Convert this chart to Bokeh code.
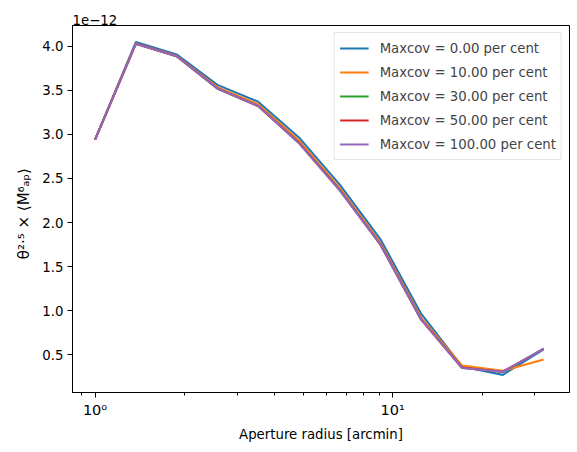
from bokeh.plotting import figure
from bokeh.embed import file_html
from bokeh.resources import INLINE
from bokeh.models import Range1d, FixedTicker, PrintfTickFormatter, Legend, LegendItem

# Aperture radii [arcmin]
radius = [1.0, 1.371, 1.880, 2.577, 3.533, 4.844, 6.641, 9.105, 12.48, 17.11, 23.46, 32.17]

# theta^2.5 * <M_ap^6>, in units of 1e-12
maxcov_0 = [2.94, 4.045, 3.905, 3.56, 3.37, 2.965, 2.43, 1.81, 0.965, 0.37, 0.275, 0.565]
maxcov_10 = [2.94, 4.03, 3.89, 3.535, 3.34, 2.93, 2.39, 1.77, 0.92, 0.38, 0.32, 0.45]
maxcov_30 = [2.94, 4.025, 3.885, 3.52, 3.32, 2.905, 2.37, 1.75, 0.90, 0.355, 0.31, 0.57]
maxcov_50 = [2.94, 4.025, 3.885, 3.52, 3.32, 2.905, 2.37, 1.75, 0.90, 0.355, 0.31, 0.57]
maxcov_100 = [2.94, 4.025, 3.885, 3.52, 3.32, 2.90, 2.365, 1.75, 0.90, 0.353, 0.31, 0.571]

labels = ["Maxcov = 0.00 per cent", "Maxcov = 10.00 per cent", "Maxcov = 30.00 per cent",
          "Maxcov = 50.00 per cent", "Maxcov = 100.00 per cent"]
series = [maxcov_0, maxcov_10, maxcov_30, maxcov_50, maxcov_100]
colors = ["#1f77b4", "#ff7f0e", "#2ca02c", "#d62728", "#9467bd"]

x_major = [1, 10]
x_minor = [0.9, 2, 3, 4, 5, 6, 7, 8, 9, 20, 30]
y_ticks = [0.5, 1.0, 1.5, 2.0, 2.5, 3.0, 3.5, 4.0]

FONT = "DejaVu Sans"
FS = "13.3px"

p = figure(width=570, height=444, x_axis_type="log", output_backend="svg",
           toolbar_location=None,
           x_range=Range1d(0.84, 39.3), y_range=Range1d(0.075, 4.233),
           min_border_left=72, min_border_right=1, min_border_top=25, min_border_bottom=50)

p.background_fill_color = "white"
p.border_fill_color = "white"
p.outline_line_color = "black"
p.outline_line_width = 1
p.xgrid.visible = False
p.ygrid.visible = False

p.title.text = "1e\u221212"
p.title.align = "left"
p.title.text_font = FONT
p.title.text_font_size = FS
p.title.text_font_style = "normal"
p.title.text_color = "black"
p.title.standoff = 2

items = []
for lab, ys, c in zip(labels, series, colors):
    r = p.line(radius, ys, line_color=c, line_width=2.1)
    items.append(LegendItem(label=lab, renderers=[r]))

legend = Legend(items=items, location="top_right")
legend.label_text_font = FONT
legend.label_text_font_size = FS
legend.label_height = 20
legend.glyph_height = 20
legend.glyph_width = 29
legend.label_standoff = 11
legend.spacing = 4
legend.padding = 5
legend.margin = 7
legend.border_line_color = "#cccccc"
legend.border_line_width = 1
legend.background_fill_alpha = 0.8
p.add_layout(legend)

xa = p.xaxis[0]
xa.ticker = FixedTicker(ticks=x_major, minor_ticks=x_minor)
xa.major_label_overrides = {1: "10\u2070", 10: "10\u00b9"}
xa.axis_label = "Aperture radius [arcmin]"

ya = p.yaxis[0]
ya.ticker = FixedTicker(ticks=y_ticks, minor_ticks=[])
ya.formatter = PrintfTickFormatter(format="%.1f")
ya.axis_label = "\u03b8\u00b2\u00b7\u2075  \u00d7  \u27e8M\u2076\u2090\u209a\u27e9"

for ax in (xa, ya):
    ax.axis_line_color = "black"
    ax.major_tick_line_color = "black"
    ax.minor_tick_line_color = "black"
    ax.major_tick_out = 5
    ax.major_tick_in = 0
    ax.minor_tick_out = 3
    ax.minor_tick_in = 0
    ax.major_label_text_font = FONT
    ax.major_label_text_font_size = FS
    ax.major_label_text_color = "black"
    ax.axis_label_text_font = FONT
    ax.axis_label_text_font_style = "normal"
    ax.axis_label_text_color = "black"
    ax.major_label_standoff = 4
    ax.axis_label_standoff = 6

xa.axis_label_text_font_size = FS
ya.axis_label_text_font_size = "15px"
xa.major_label_text_font_size = "14.5px"

open("out.html", "w").write(file_html(p, INLINE))
